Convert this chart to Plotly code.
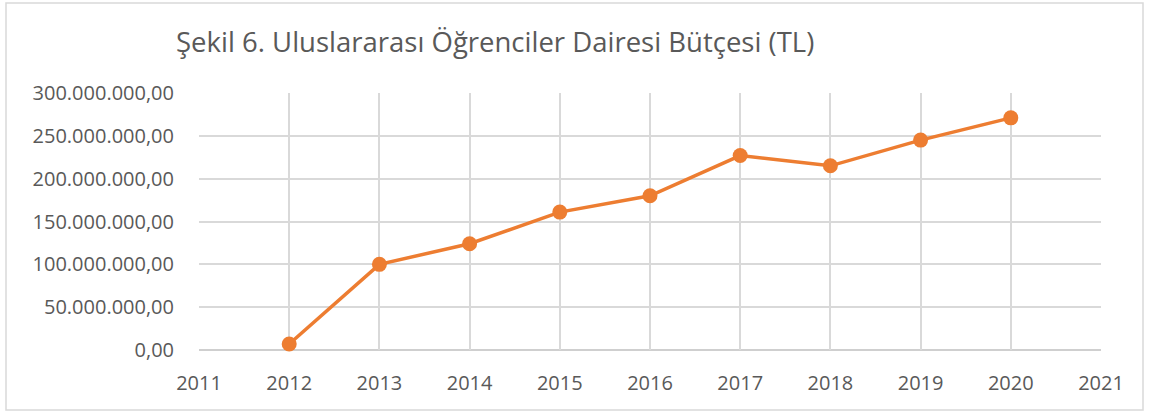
import plotly.graph_objects as go

years = [2012, 2013, 2014, 2015, 2016, 2017, 2018, 2019, 2020]
budget = [7_000_000, 100_000_000, 124_000_000, 161_000_000, 180_000_000,
          227_000_000, 215_000_000, 245_000_000, 271_000_000]
y_ticks = [0, 50_000_000, 100_000_000, 150_000_000, 200_000_000, 250_000_000, 300_000_000]
x_ticks = list(range(2011, 2022))

FONT = "Open Sans"
fig = go.Figure()
fig.add_trace(go.Scatter(
    x=years, y=budget, mode="lines+markers",
    line=dict(color="#ED7D31", width=3.5),
    marker=dict(color="#ED7D31", size=15),
    showlegend=False, cliponaxis=False,
))

fig.update_layout(
    width=1149, height=414,
    margin=dict(l=199, r=48, t=93, b=64),
    paper_bgcolor="white", plot_bgcolor="white",
    separators=",.",
    font=dict(family=FONT, color="#595959", size=20),
    title=dict(text="Şekil 6. Uluslararası Öğrenciler Dairesi Bütçesi (TL)",
               x=176 / 1149, xref="container", xanchor="left",
               y=1 - 42 / 414, yref="container", yanchor="middle",
               font=dict(family=FONT, size=27.5, color="#595959")),
    xaxis=dict(range=[2011, 2021], tickvals=x_ticks, ticktext=[str(v) for v in x_ticks],
               showgrid=True, gridcolor="#D9D9D9", gridwidth=1.5,
               zeroline=False, showline=False, ticks="", ticklen=0,
               ticklabelstandoff=19),
    yaxis=dict(range=[0, 300_000_000], tickvals=y_ticks, tickformat=",.2f",
               showgrid=True, gridcolor="#D9D9D9", gridwidth=1.5,
               zeroline=False, showline=False, ticks="", ticklabelstandoff=24),
    shapes=[
        dict(type="line", xref="paper", yref="paper", x0=0, x1=1, y0=0, y1=0,
             line=dict(color="#BFBFBF", width=1.5), layer="below"),
        dict(type="rect", xref="paper", yref="paper",
             x0=(6 - 199) / 902, x1=(1143 - 199) / 902,
             y0=(350 - 410) / 257, y1=(350 - 3) / 257,
             line=dict(color="#D9D9D9", width=1.5), fillcolor="rgba(0,0,0,0)"),
    ],
)
fig.write_html("out.html", config={"displayModeBar": False},
               post_script="document.body.style.margin='0';")
